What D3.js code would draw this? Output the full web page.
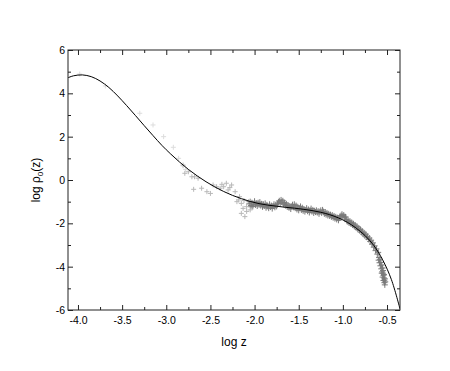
<!DOCTYPE html>
<html>
<head>
<meta charset="utf-8">
<script src="https://cdn.jsdelivr.net/npm/d3@7"></script>
<style>
  body { margin: 0; background: #fff; }
  svg { display: block; }
  text { font-family: "Liberation Sans", Arial, sans-serif; fill: #000; }
</style>
</head>
<body>
<script>
// axes
const xTicks = [-4.0, -3.5, -3.0, -2.5, -2.0, -1.5, -1.0, -0.5];
const xMinor = [-3.75, -3.25, -2.75, -2.25, -1.75, -1.25, -0.75];
const yTicks = [-6, -4, -2, 0, 2, 4, 6];
const yMinor = [-5, -3, -1, 1, 3, 5];

// fitted curve [log z, log rho0]
const fitCurve = [
  [-4.113, 4.72], [-4.05, 4.81], [-3.95, 4.85], [-3.85, 4.77], [-3.75, 4.57],
  [-3.65, 4.27], [-3.55, 3.88], [-3.45, 3.44], [-3.35, 2.98], [-3.25, 2.51],
  [-3.15, 2.05], [-3.05, 1.60], [-2.95, 1.20], [-2.85, 0.83], [-2.75, 0.49],
  [-2.65, 0.19], [-2.55, -0.08], [-2.45, -0.32], [-2.35, -0.53], [-2.25, -0.71],
  [-2.15, -0.86], [-2.05, -0.99], [-1.95, -1.09], [-1.85, -1.16], [-1.75, -1.21],
  [-1.65, -1.26], [-1.55, -1.30], [-1.45, -1.35], [-1.35, -1.41], [-1.25, -1.49],
  [-1.15, -1.60], [-1.05, -1.75], [-0.95, -1.95], [-0.85, -2.22], [-0.75, -2.56],
  [-0.65, -3.02], [-0.55, -3.68], [-0.45, -4.60], [-0.353, -5.95]
];

// very faint points along the left part of the curve
const faintPoints = [
  [-3.98, 4.89], [-3.69, 4.34], [-3.30, 3.08], [-3.15, 2.54], [-3.03, 2.00],
  [-2.92, 1.51], [-2.86, 1.00], [-2.81, 0.65], [-2.78, 0.49]
];

// light grey scatter
const lightPoints = [
  [-2.81, 0.69], [-2.79, 0.31], [-2.75, 0.38], [-2.71, 0.15], [-2.68, 0.15],
  [-2.64, 0.08], [-2.69, -0.43], [-2.60, -0.38], [-2.54, -0.54], [-2.50, -0.62],
  [-2.47, -0.23], [-2.43, -0.31], [-2.39, -0.38], [-2.35, -0.31], [-2.32, -0.15],
  [-2.30, -0.46], [-2.26, -0.23], [-2.22, -0.54], [-2.18, -0.92], [-2.15, -1.08],
  [-2.13, -1.31], [-2.09, -1.23], [-2.05, -1.38], [-2.15, -1.54], [-2.01, -1.15],
  [-2.11, -1.69], [-2.07, -1.00], [-2.17, -0.77], [-2.37, -0.20], [-2.28, -0.35],
  [-2.20, -1.00], [-2.12, -0.95], [-2.04, -1.25], [-2.09, -1.45]
];

// dense dark grey scatter
const densePoints = [
  [-2.06, -1.10], [-2.05, -1.00], [-2.04, -1.18], [-2.03, -1.05], [-2.02, -1.22],
  [-2.01, -1.12], [-2.00, -0.98], [-1.99, -1.15], [-1.98, -1.08], [-1.97, -1.20],
  [-1.96, -1.05], [-1.95, -1.14], [-1.94, -1.02], [-1.93, -1.18], [-1.92, -1.10],
  [-1.91, -1.24], [-1.90, -1.12], [-1.89, -1.20], [-1.88, -1.08], [-1.87, -1.28],
  [-1.86, -1.15], [-1.85, -1.22], [-1.84, -1.30], [-1.83, -1.12], [-1.82, -1.25],
  [-1.81, -1.18], [-1.80, -1.32], [-1.79, -1.20], [-1.78, -1.12], [-1.77, -1.26],
  [-1.76, -1.16], [-1.75, -1.22], [-1.74, -1.10], [-1.73, -1.02], [-1.72, -0.96],
  [-1.71, -1.08], [-1.70, -0.92], [-1.69, -1.02], [-1.68, -0.96], [-1.67, -1.12],
  [-1.66, -1.04], [-1.65, -1.18], [-1.64, -1.10], [-1.63, -1.24], [-1.62, -1.16],
  [-1.61, -1.28], [-1.60, -1.20], [-1.59, -1.34], [-1.58, -1.22], [-1.57, -1.14],
  [-1.56, -1.26], [-1.55, -1.12], [-1.54, -1.30], [-1.53, -1.18], [-1.52, -1.36],
  [-1.51, -1.24], [-1.50, -1.40], [-1.49, -1.30], [-1.48, -1.22], [-1.47, -1.38],
  [-1.46, -1.28], [-1.45, -1.42], [-1.44, -1.34], [-1.43, -1.46], [-1.42, -1.38],
  [-1.41, -1.30], [-1.40, -1.44], [-1.39, -1.36], [-1.38, -1.50], [-1.37, -1.40],
  [-1.36, -1.32], [-1.35, -1.46], [-1.34, -1.38], [-1.33, -1.52], [-1.32, -1.42],
  [-1.31, -1.48], [-1.30, -1.40], [-1.29, -1.50], [-1.28, -1.44], [-1.27, -1.56],
  [-1.26, -1.46], [-1.25, -1.40], [-1.24, -1.52], [-1.23, -1.38], [-1.22, -1.46],
  [-1.21, -1.56], [-1.20, -1.48], [-1.19, -1.60], [-1.18, -1.52], [-1.17, -1.64],
  [-1.16, -1.56], [-1.15, -1.66], [-1.14, -1.60], [-1.13, -1.70], [-1.12, -1.62],
  [-1.11, -1.74], [-1.10, -1.66], [-1.09, -1.78], [-1.08, -1.70], [-1.07, -1.82],
  [-1.06, -1.74], [-1.05, -1.86], [-1.04, -1.76], [-1.03, -1.70], [-1.02, -1.64],
  [-1.01, -1.58], [-1.00, -1.68], [-0.99, -1.62], [-0.98, -1.74], [-0.97, -1.70],
  [-0.96, -1.82], [-0.95, -1.92], [-0.94, -1.86], [-0.93, -1.98], [-0.92, -1.90],
  [-0.91, -2.02], [-0.90, -1.96], [-0.89, -2.08], [-0.88, -2.02], [-0.87, -2.14],
  [-0.86, -2.08], [-0.85, -2.20], [-0.84, -2.14], [-0.83, -2.28], [-0.82, -2.22],
  [-0.81, -2.34], [-0.80, -2.28], [-0.79, -2.42], [-0.78, -2.36], [-0.77, -2.50],
  [-0.76, -2.44], [-0.75, -2.58], [-0.74, -2.50], [-0.73, -2.64], [-0.72, -2.60],
  [-0.71, -2.74], [-0.70, -2.68], [-0.69, -2.84], [-0.68, -2.78], [-0.67, -2.96],
  [-0.66, -2.90], [-0.65, -3.10], [-0.64, -3.04], [-0.63, -3.26], [-0.62, -3.18],
  [-0.61, -3.42], [-0.60, -3.34], [-0.59, -3.58], [-0.595, -3.70], [-0.58, -3.66],
  [-0.585, -3.82], [-0.57, -3.80], [-0.575, -3.96], [-0.56, -3.92], [-0.565, -4.10],
  [-0.55, -4.06], [-0.555, -4.24], [-0.545, -4.30], [-0.54, -4.40], [-0.535, -4.52],
  [-0.53, -4.62], [-0.53, -4.74], [-0.525, -4.84], [-0.545, -4.18], [-0.535, -4.36],
  [-0.525, -4.56], [-0.52, -4.70], [-0.55, -4.48], [-0.54, -4.64], [-0.56, -4.30]
];

const width = 450, height = 371;
const mLeft = 68, mRight = 400, mTop = 50, mBottom = 310;

const svg = d3.select("body").append("svg")
    .attr("width", width)
    .attr("height", height);

const x = d3.scaleLinear().domain([-4.113, -0.353]).range([mLeft, mRight]);
const y = d3.scaleLinear().domain([-6, 6]).range([mBottom, mTop]);

// clip for the curve
svg.append("clipPath").attr("id", "plot")
  .append("rect")
    .attr("x", mLeft).attr("y", mTop)
    .attr("width", mRight - mLeft).attr("height", mBottom - mTop);

// points
function drawPoints(data, color, s) {
  svg.append("g")
    .selectAll("path")
    .data(data)
    .enter()
    .append("path")
      .attr("d", `M${-s},0H${s}M0,${-s}V${s}`)
      .attr("transform", d => `translate(${x(d[0])},${y(d[1])})`)
      .attr("stroke", color)
      .attr("stroke-width", 1)
      .attr("fill", "none");
}
drawPoints(faintPoints, "#dcdcdc", 2.5);
drawPoints(lightPoints, "#b8b8b8", 2.5);
drawPoints(densePoints, "#7a7a7a", 3);

// fitted line
const line = d3.line()
    .x(d => x(d[0]))
    .y(d => y(d[1]))
    .curve(d3.curveCatmullRom);

svg.append("path")
    .datum(fitCurve)
    .attr("clip-path", "url(#plot)")
    .attr("d", line)
    .attr("fill", "none")
    .attr("stroke", "#000")
    .attr("stroke-width", 1);

// axes with inward ticks
const fmtX = d => d.toFixed(1);
const fmtY = d => String(d);

function styleAxis(g) {
  g.select(".domain").remove();
  g.selectAll("line").attr("stroke", "#222");
  g.selectAll("text").attr("font-size", "10.5px").attr("font-family", '"Liberation Sans", Arial, sans-serif');
}

svg.append("g").attr("transform", `translate(0,${mBottom})`)
  .call(d3.axisBottom(x).tickValues(xTicks).tickSizeInner(-5).tickSizeOuter(0).tickPadding(7).tickFormat(fmtX))
  .call(styleAxis);
svg.append("g").attr("transform", `translate(0,${mBottom})`)
  .call(d3.axisBottom(x).tickValues(xMinor).tickSizeInner(-3).tickSizeOuter(0).tickFormat(""))
  .call(styleAxis);
svg.append("g").attr("transform", `translate(0,${mTop})`)
  .call(d3.axisTop(x).tickValues(xTicks).tickSizeInner(-5).tickSizeOuter(0).tickFormat(""))
  .call(styleAxis);
svg.append("g").attr("transform", `translate(0,${mTop})`)
  .call(d3.axisTop(x).tickValues(xMinor).tickSizeInner(-3).tickSizeOuter(0).tickFormat(""))
  .call(styleAxis);

svg.append("g").attr("transform", `translate(${mLeft},0)`)
  .call(d3.axisLeft(y).tickValues(yTicks).tickSizeInner(-5).tickSizeOuter(0).tickPadding(3).tickFormat(fmtY))
  .call(styleAxis);
svg.append("g").attr("transform", `translate(${mLeft},0)`)
  .call(d3.axisLeft(y).tickValues(yMinor).tickSizeInner(-3).tickSizeOuter(0).tickFormat(""))
  .call(styleAxis);
svg.append("g").attr("transform", `translate(${mRight},0)`)
  .call(d3.axisRight(y).tickValues(yTicks).tickSizeInner(-5).tickSizeOuter(0).tickFormat(""))
  .call(styleAxis);
svg.append("g").attr("transform", `translate(${mRight},0)`)
  .call(d3.axisRight(y).tickValues(yMinor).tickSizeInner(-3).tickSizeOuter(0).tickFormat(""))
  .call(styleAxis);

// frame
svg.append("rect")
    .attr("x", mLeft).attr("y", mTop)
    .attr("width", mRight - mLeft).attr("height", mBottom - mTop)
    .attr("fill", "none")
    .attr("stroke", "#222")
    .attr("stroke-width", 1);

// axis titles
svg.append("text")
    .attr("x", (mLeft + mRight) / 2)
    .attr("y", 346)
    .attr("text-anchor", "middle")
    .attr("font-size", "12px")
    .text("log z");

const yTitle = svg.append("text")
    .attr("transform", `translate(40,${(mTop + mBottom) / 2}) rotate(-90)`)
    .attr("text-anchor", "middle")
    .attr("font-size", "12px");
yTitle.append("tspan").text("log ρ");
yTitle.append("tspan").attr("font-size", "8px").attr("dy", "3").text("0");
yTitle.append("tspan").attr("dy", "-3").text("(z)");
</script>
</body>
</html>
